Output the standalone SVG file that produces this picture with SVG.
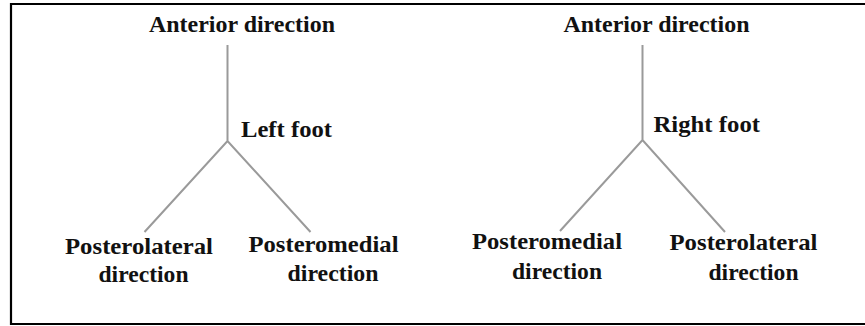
<svg xmlns="http://www.w3.org/2000/svg" width="865" height="326" viewBox="0 0 865 326">
<style>
.t{font-family:"Liberation Serif","Times New Roman",serif;font-weight:bold;font-size:23px;fill:#111}
.c{stroke:#9a9a9a;stroke-width:2;fill:none}
.f{stroke:#000;stroke-width:2.2;fill:none}
</style>
<rect width="865" height="326" fill="#fff"/>
<path class="f" d="M870 4 H11 V324 H870"/>
<g id="connectors">
<path class="c" d="M227.5 45 V141 M144.5 232 L227.5 141 L310.5 232"/>
<path class="c" d="M642.5 45 V140 M560 231 L642.5 140 L725 232"/>
</g>
<g id="left-anterior"><text class="t" x="149" y="32" textLength="186" lengthAdjust="spacingAndGlyphs">Anterior direction</text></g>
<g id="left-foot"><text class="t" x="241" y="137" textLength="91" lengthAdjust="spacingAndGlyphs">Left foot</text></g>
<g id="left-posterolateral"><text class="t" x="65" y="253.5" textLength="148" lengthAdjust="spacingAndGlyphs">Posterolateral</text><text class="t" x="98.5" y="282" textLength="90" lengthAdjust="spacingAndGlyphs">direction</text></g>
<g id="left-posteromedial"><text class="t" x="248.5" y="252" textLength="150" lengthAdjust="spacingAndGlyphs">Posteromedial</text><text class="t" x="287.5" y="281" textLength="91" lengthAdjust="spacingAndGlyphs">direction</text></g>
<g id="right-anterior"><text class="t" x="563.5" y="32" textLength="186" lengthAdjust="spacingAndGlyphs">Anterior direction</text></g>
<g id="right-foot"><text class="t" x="653.5" y="131.5" textLength="106.5" lengthAdjust="spacingAndGlyphs">Right foot</text></g>
<g id="right-posteromedial"><text class="t" x="472" y="248.5" textLength="150" lengthAdjust="spacingAndGlyphs">Posteromedial</text><text class="t" x="512" y="278.5" textLength="90" lengthAdjust="spacingAndGlyphs">direction</text></g>
<g id="right-posterolateral"><text class="t" x="669.5" y="250" textLength="148" lengthAdjust="spacingAndGlyphs">Posterolateral</text><text class="t" x="708.5" y="280" textLength="90" lengthAdjust="spacingAndGlyphs">direction</text></g>
</svg>
